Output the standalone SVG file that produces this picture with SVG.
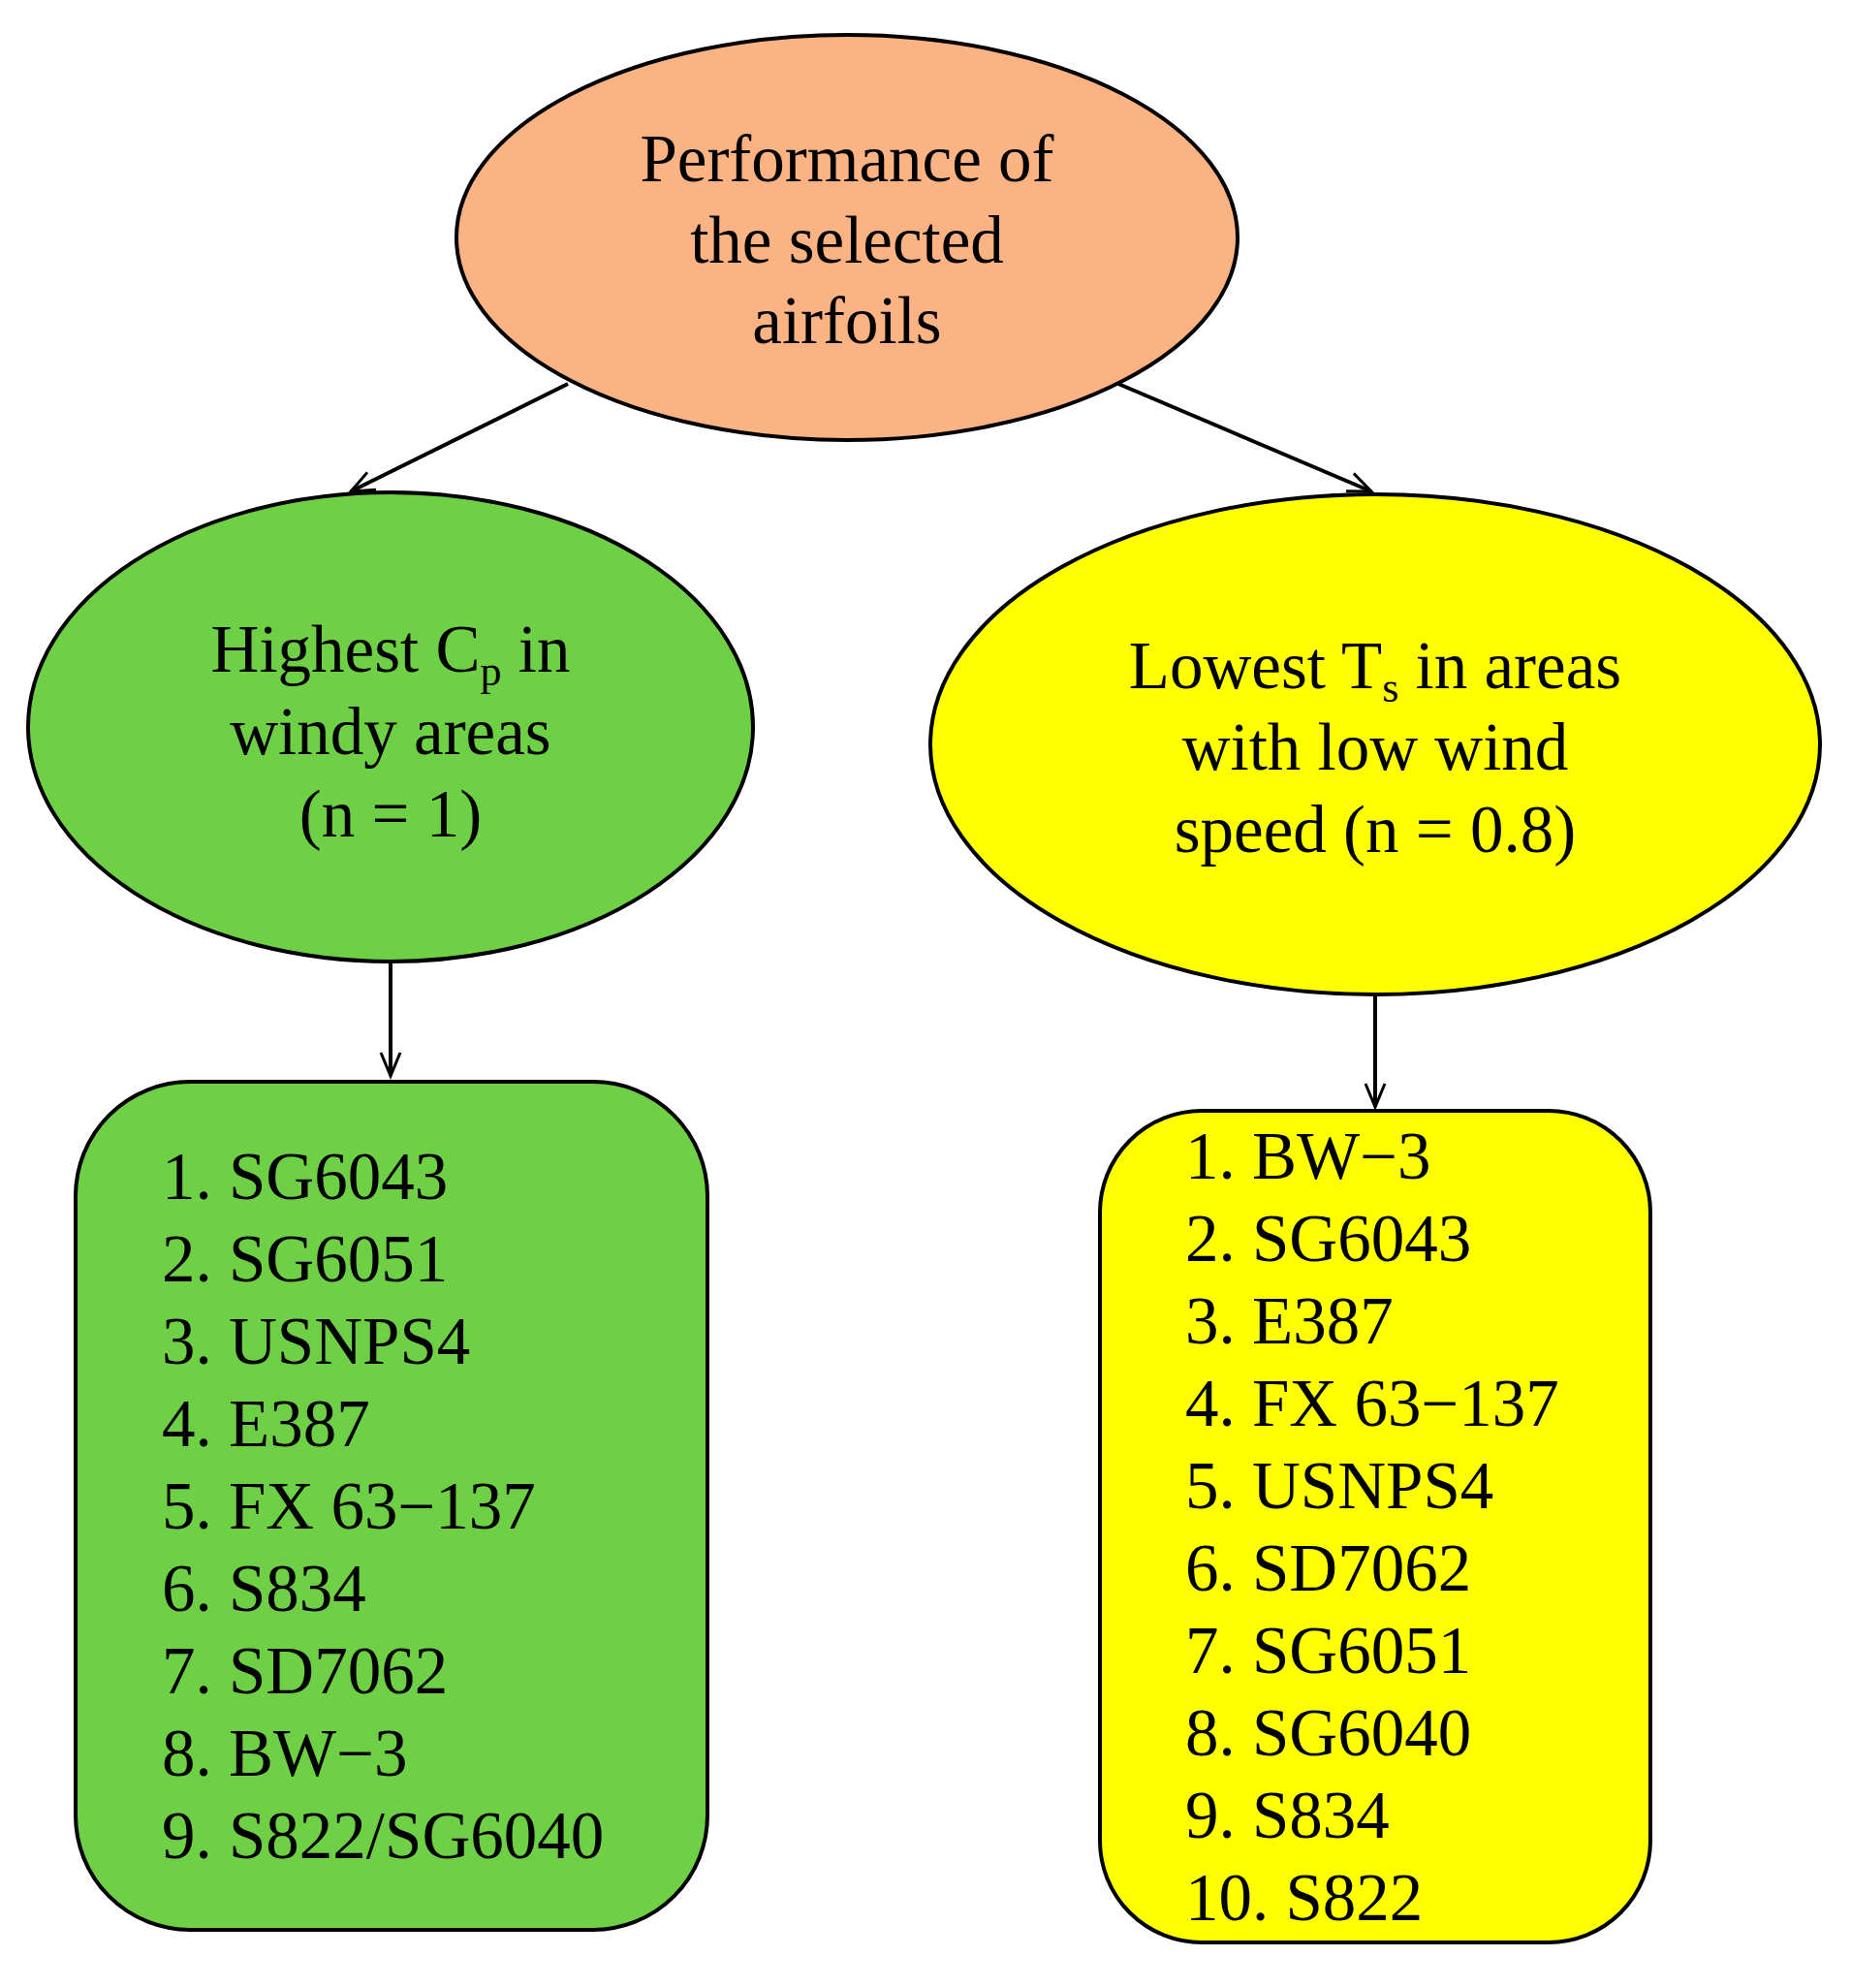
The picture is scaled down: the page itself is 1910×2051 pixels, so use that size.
<svg xmlns="http://www.w3.org/2000/svg" width="1910" height="2051" viewBox="0 0 1910 2051">
<defs>
<style>
.n{stroke:#000;stroke-width:4}
text{font-family:"Liberation Serif","Times New Roman",serif;font-size:69px;fill:#000}
.c{text-anchor:middle}
.e{stroke:#000;stroke-width:4;fill:none}
</style>
<marker id="a" markerWidth="30" markerHeight="30" refX="26" refY="12" orient="auto" markerUnits="userSpaceOnUse" viewBox="0 0 30 24"><path d="M2,2 L26,12 L2,22" fill="none" stroke="#000" stroke-width="3"/></marker>
</defs>
<rect width="1910" height="2051" fill="#fff"/>
<g id="connectors">
<line class="e" x1="586" y1="396" x2="362" y2="507" marker-end="url(#a)"/>
<line class="e" x1="1154" y1="396" x2="1415" y2="507" marker-end="url(#a)"/>
<line class="e" x1="403" y1="994" x2="403" y2="1110" marker-end="url(#a)"/>
<line class="e" x1="1419" y1="1028" x2="1419" y2="1142" marker-end="url(#a)"/>
</g>
<g id="top">
<ellipse class="n" cx="874" cy="245" rx="403" ry="209" fill="#FBB383"/>
<text class="c" x="874" y="187">Performance of</text>
<text class="c" x="874" y="271">the selected</text>
<text class="c" x="874" y="354">airfoils</text>
</g>
<g id="green">
<ellipse class="n" cx="403" cy="750" rx="374" ry="242" fill="#6ED044"/>
<text class="c" x="403" y="693">Highest C<tspan font-size="44" dy="14">p</tspan><tspan dy="-14"> in</tspan></text>
<text class="c" x="403" y="778">windy areas</text>
<text class="c" x="403" y="863">(n = 1)</text>
</g>
<g id="yellow">
<ellipse class="n" cx="1419" cy="768" rx="459" ry="258" fill="#FFFF00"/>
<text class="c" x="1419" y="710">Lowest T<tspan font-size="44" dy="14">s</tspan><tspan dy="-14"> in areas</tspan></text>
<text class="c" x="1419" y="794">with low wind</text>
<text class="c" x="1419" y="879">speed (n = 0.8)</text>
</g>
<g id="greenlist">
<rect class="n" x="78" y="1116" width="652" height="875" rx="118" ry="118" fill="#6ED044"/>
<text x="167" y="1237">1. SG6043</text>
<text x="167" y="1322">2. SG6051</text>
<text x="167" y="1407">3. USNPS4</text>
<text x="167" y="1492">4. E387</text>
<text x="167" y="1577">5. FX 63−137</text>
<text x="167" y="1662">6. S834</text>
<text x="167" y="1747">7. SD7062</text>
<text x="167" y="1832">8. BW−3</text>
<text x="167" y="1917">9. S822/SG6040</text>
</g>
<g id="yellowlist">
<rect class="n" x="1135" y="1146" width="568" height="858" rx="105" ry="105" fill="#FFFF00"/>
<text x="1223" y="1216">1. BW−3</text>
<text x="1223" y="1301">2. SG6043</text>
<text x="1223" y="1386">3. E387</text>
<text x="1223" y="1471">4. FX 63−137</text>
<text x="1223" y="1556">5. USNPS4</text>
<text x="1223" y="1641">6. SD7062</text>
<text x="1223" y="1726">7. SG6051</text>
<text x="1223" y="1811">8. SG6040</text>
<text x="1223" y="1896">9. S834</text>
<text x="1223" y="1981">10. S822</text>
</g>
</svg>
